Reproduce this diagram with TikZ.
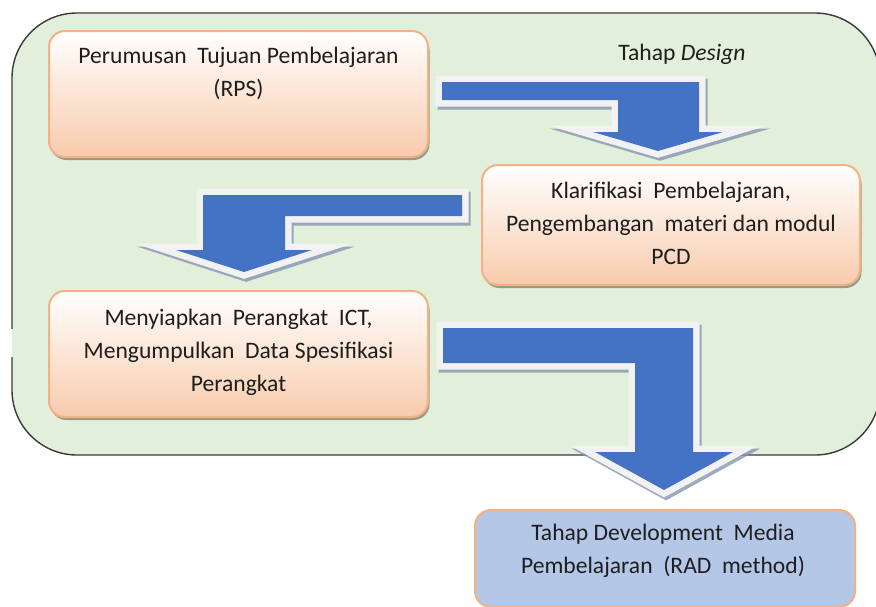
\documentclass[tikz,border=0pt]{standalone}
\usepackage{fontspec}
\setmainfont{Carlito}
\usetikzlibrary{shadows}
\definecolor{greenbg}{HTML}{E2EFDA}
\definecolor{frame}{HTML}{3A3A3A}
\definecolor{peach}{HTML}{F8CBAD}
\definecolor{peachline}{HTML}{F4B183}
\definecolor{arrblue}{HTML}{4472C4}
\definecolor{arrwhite}{HTML}{F2F2F2}
\definecolor{arrshade}{HTML}{8496B0}
\definecolor{devblue}{HTML}{B4C7E7}
\definecolor{txt}{HTML}{1E1E1E}
\tikzset{
  container/.style={draw=frame, fill=greenbg, line width=1.4pt, rounded corners=65pt, inner sep=0pt},
  pbox/.style={draw=peachline, line width=2pt, rounded corners=16pt, top color=white, bottom color=peach, inner sep=0pt,
    drop shadow={shadow xshift=1.5pt, shadow yshift=-3pt, fill=black, opacity=0.35}},
  dbox/.style={draw=peachline, line width=2pt, rounded corners=16pt, fill=devblue, inner sep=0pt},
  ltext/.style={font=\fontsize{23.6pt}{33pt}\selectfont, text=txt, align=center, inner sep=0pt, anchor=base},
  arrshadow/.style={draw=arrshade, fill=arrshade, line width=13pt, opacity=0.8},
  arrline/.style={draw=arrwhite, line width=13pt},
  arrfill/.style={fill=arrblue},
}
\newcommand\blockarrow[1]{%
  \path[arrshadow, xshift=2pt, yshift=-3pt] #1;
  \path[arrline] #1;
  \path[arrfill] #1;}
\begin{document}
\begin{tikzpicture}[x=1pt, y=-1pt]
\useasboundingbox (0,0) rectangle (876,606);
% stage container
\node[container, minimum width=868pt, minimum height=442pt] (stage) at (446,234) {};
\fill[white] (9,329) rectangle (12,357);
\fill[greenbg] (12,329) rectangle (14.5,357);
\node[ltext] (design) at (682,60) {Tahap \textit{Design}};
% boxes (text anchored at the baseline of the last line)
\node[pbox, minimum width=379pt, minimum height=126pt] (b1) at (238.5,94) {};
\node[ltext] (t1) at (238.5,96) {Perumusan\ \ Tujuan Pembelajaran\\(RPS)};
\node[pbox, minimum width=378pt, minimum height=120pt] (b2) at (671,225) {};
\node[ltext] (t2) at (671,264) {Klarifikasi\ \ Pembelajaran,\\Pengembangan\ \ materi dan modul\\PCD};
\node[pbox, minimum width=379pt, minimum height=126pt] (b3) at (238.5,354) {};
\node[ltext] (t3) at (238.5,391) {Menyiapkan\ \ Perangkat\ \ ICT,\\Mengumpulkan\ \ Data Spesifikasi\\Perangkat};
\node[dbox, minimum width=380pt, minimum height=97pt] (b4) at (665,558.5) {};
\node[ltext] (t4) at (663,573) {Tahap Development\ \ Media\\Pembelajaran\ \ (RAD\ \ method)};
% block arrows
\blockarrow{(442,82) -- (699,82) -- (699,132) -- (723,132) -- (658,151) -- (593,132) -- (618,132) -- (618,100) -- (442,100) -- cycle}
\blockarrow{(462,195) -- (462,216) -- (285,216) -- (285,250) -- (312,250) -- (244,272) -- (176,250) -- (203,250) -- (203,195) -- cycle}
\blockarrow{(443,328) -- (693,328) -- (693,452) -- (733,452) -- (664,490) -- (595,452) -- (635,452) -- (635,363) -- (443,363) -- cycle}
\end{tikzpicture}
\end{document}
